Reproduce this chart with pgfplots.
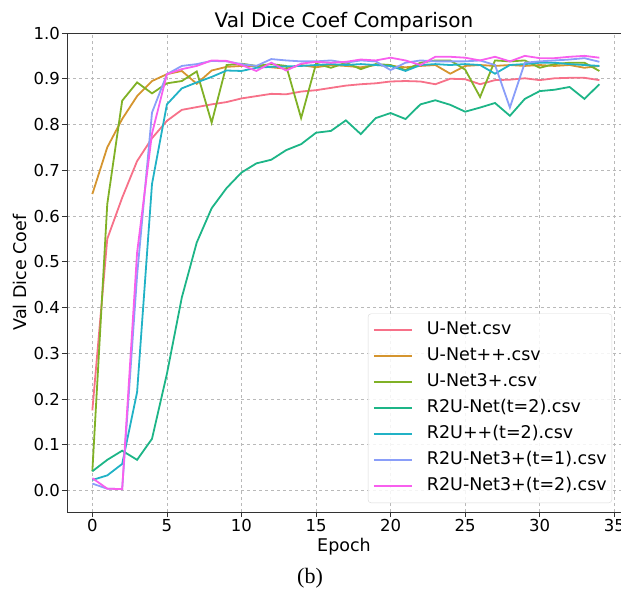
\documentclass[border=0pt]{standalone}
\usepackage{pgfplots}
\pgfplotsset{compat=1.18}
\usepackage{fontspec}
\setmainfont{DejaVu Sans}
\newfontfamily\capfont{Liberation Serif}

\definecolor{cUNet}{HTML}{F77189}
\definecolor{cUNetpp}{HTML}{D5952F}
\definecolor{cUNetThree}{HTML}{80B126}
\definecolor{cRUNet}{HTML}{1DB587}
\definecolor{cRUpp}{HTML}{21B2C6}
\definecolor{cRUThreeA}{HTML}{8A9EF9}
\definecolor{cRUThreeB}{HTML}{F85FEE}

\begin{document}
\begin{tikzpicture}
\begin{axis}[
    at={(0,0)}, anchor=south west,
    scale only axis,
    width=554pt, height=479pt,
    xmin=-1.7, xmax=35.45,
    ymin=-0.047, ymax=1.0,
    xtick={0,5,...,35},
    ytick={0,0.1,0.2,0.3,0.4,0.5,0.6,0.7,0.8,0.9,1.0},
    yticklabel style={/pgf/number format/.cd, fixed, fixed zerofill, precision=1},
    /pgf/number format/assume math mode=true,
    tick label style={font=\fontsize{16.5}{19}\selectfont, inner sep=2pt},
    tick align=outside,
    major tick length=5pt,
    tick style={black!80, line width=0.8pt},
    xtick pos=bottom, ytick pos=left,
    axis line style={black!80, line width=0.9pt},
    grid=major,
    major grid style={gray!55, dashed, line width=0.6pt},
    title={Val Dice Coef Comparison},
    title style={font=\fontsize{20}{24}\selectfont, at={(0.5,1)}, anchor=base, inner sep=0pt, yshift=-1pt},
    xlabel={Epoch},
    xlabel style={font=\fontsize{17.5}{21}\selectfont, at={(axis description cs:0.5,0)}, anchor=center, yshift=-35pt},
    ylabel={Val Dice Coef},
    ylabel style={font=\fontsize{17.5}{21}\selectfont, at={(axis description cs:-0.085,0.5)}, anchor=center},
    every axis plot/.append style={line width=1.8pt, mark=none},
    legend cell align=left,
    legend image code/.code={\draw[#1] (0pt,0pt) -- (38pt,0pt);},
    legend style={
        at={(rel axis cs:1,0)}, anchor=south east, xshift=-9pt, yshift=9pt,
        draw=black!15, rounded corners=3pt, fill=white, fill opacity=0.85, text opacity=1,
        font=\fontsize{17.5}{20}\selectfont,
        row sep=9pt, inner xsep=5pt, inner ysep=8pt,
        nodes={inner sep=0pt, text height=13pt, text depth=4pt},
        /tikz/every odd column/.append style={column sep=14pt},
    },
]

% U-Net
\addplot[color=cUNet] coordinates {
(0,0.175) (1,0.55) (2,0.64) (3,0.72) (4,0.77) (5,0.808) (6,0.832) (7,0.838)
(8,0.844) (9,0.849) (10,0.857) (11,0.862) (12,0.867) (13,0.866) (14,0.872)
(15,0.875) (16,0.880) (17,0.885) (18,0.888) (19,0.890) (20,0.894) (21,0.895)
(22,0.894) (23,0.888) (24,0.900) (25,0.899) (26,0.888) (27,0.897) (28,0.898)
(29,0.901) (30,0.897) (31,0.901) (32,0.902) (33,0.902) (34,0.897)
};
\addlegendentry{U-Net.csv}

% U-Net++
\addplot[color=cUNetpp] coordinates {
(0,0.648) (1,0.75) (2,0.812) (3,0.862) (4,0.895) (5,0.91) (6,0.917) (7,0.889)
(8,0.918) (9,0.926) (10,0.928) (11,0.928) (12,0.925) (13,0.922) (14,0.93)
(15,0.925) (16,0.93) (17,0.928) (18,0.925) (19,0.93) (20,0.928) (21,0.925)
(22,0.928) (23,0.93) (24,0.911) (25,0.928) (26,0.93) (27,0.928) (28,0.93)
(29,0.928) (30,0.93) (31,0.928) (32,0.93) (33,0.924) (34,0.928)
};
\addlegendentry{U-Net++.csv}

% U-Net3+
\addplot[color=cUNetThree] coordinates {
(0,0.042) (1,0.626) (2,0.852) (3,0.892) (4,0.868) (5,0.89) (6,0.895) (7,0.916)
(8,0.804) (9,0.93) (10,0.933) (11,0.928) (12,0.932) (13,0.928) (14,0.814)
(15,0.933) (16,0.924) (17,0.935) (18,0.921) (19,0.932) (20,0.93) (21,0.919)
(22,0.935) (23,0.94) (24,0.94) (25,0.92) (26,0.86) (27,0.94) (28,0.938)
(29,0.94) (30,0.924) (31,0.932) (32,0.935) (33,0.935) (34,0.917)
};
\addlegendentry{U-Net3+.csv}

% R2U-Net(t=2)
\addplot[color=cRUNet] coordinates {
(0,0.042) (1,0.067) (2,0.087) (3,0.067) (4,0.113) (5,0.255) (6,0.422) (7,0.542)
(8,0.617) (9,0.661) (10,0.695) (11,0.715) (12,0.723) (13,0.744) (14,0.757)
(15,0.782) (16,0.786) (17,0.809) (18,0.779) (19,0.814) (20,0.825) (21,0.812)
(22,0.844) (23,0.853) (24,0.843) (25,0.828) (26,0.837) (27,0.847) (28,0.819)
(29,0.856) (30,0.873) (31,0.876) (32,0.882) (33,0.856) (34,0.888)
};
\addlegendentry{R2U-Net(t=2).csv}

% R2U++(t=2)
\addplot[color=cRUpp] coordinates {
(0,0.023) (1,0.033) (2,0.058) (3,0.215) (4,0.67) (5,0.844) (6,0.879) (7,0.892)
(8,0.904) (9,0.918) (10,0.917) (11,0.924) (12,0.926) (13,0.927) (14,0.928)
(15,0.93) (16,0.932) (17,0.93) (18,0.932) (19,0.93) (20,0.928) (21,0.917)
(22,0.93) (23,0.932) (24,0.93) (25,0.932) (26,0.93) (27,0.911) (28,0.93)
(29,0.932) (30,0.935) (31,0.935) (32,0.932) (33,0.93) (34,0.928)
};
\addlegendentry{R2U++(t=2).csv}

% R2U-Net3+(t=1)
\addplot[color=cRUThreeA] coordinates {
(0,0.015) (1,0.004) (2,0.003) (3,0.47) (4,0.826) (5,0.91) (6,0.928) (7,0.932)
(8,0.939) (9,0.938) (10,0.932) (11,0.928) (12,0.943) (13,0.94) (14,0.938)
(15,0.938) (16,0.94) (17,0.935) (18,0.94) (19,0.938) (20,0.919) (21,0.935)
(22,0.94) (23,0.938) (24,0.938) (25,0.938) (26,0.94) (27,0.93) (28,0.837)
(29,0.935) (30,0.938) (31,0.94) (32,0.942) (33,0.945) (34,0.937)
};
\addlegendentry{R2U-Net3+(t=1).csv}

% R2U-Net3+(t=2)
\addplot[color=cRUThreeB] coordinates {
(0,0.027) (1,0.004) (2,0.003) (3,0.52) (4,0.78) (5,0.91) (6,0.921) (7,0.928)
(8,0.94) (9,0.939) (10,0.93) (11,0.917) (12,0.935) (13,0.918) (14,0.933)
(15,0.937) (16,0.935) (17,0.937) (18,0.942) (19,0.94) (20,0.946) (21,0.94)
(22,0.93) (23,0.948) (24,0.948) (25,0.946) (26,0.94) (27,0.948) (28,0.938)
(29,0.95) (30,0.945) (31,0.945) (32,0.948) (33,0.95) (34,0.946)
};
\addlegendentry{R2U-Net3+(t=2).csv}

\end{axis}
\node[font=\capfont\fontsize{22}{26}\selectfont, anchor=center] at (243pt,-66pt) {(b)};
\pgfresetboundingbox
\path[use as bounding box] (-67pt,-77pt) rectangle (554pt,512pt);
\end{tikzpicture}
\end{document}
